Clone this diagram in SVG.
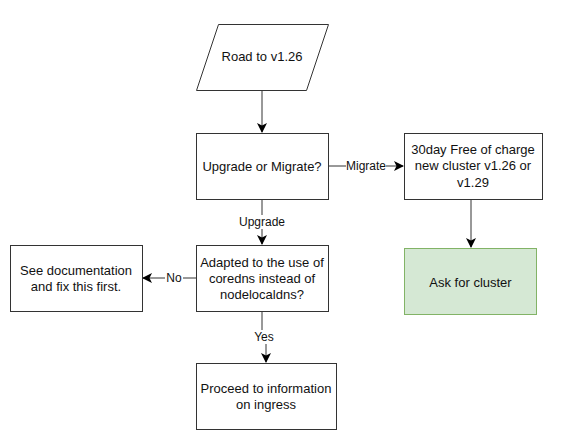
<svg xmlns="http://www.w3.org/2000/svg" width="568" height="437" viewBox="0 0 568 437">
<style>
.n{fill:#fff;stroke:#333;stroke-width:1}
.g{fill:#d5e8d4;stroke:#82b366;stroke-width:1}
.t{font-family:"Liberation Sans",Arial,sans-serif;font-size:13px;fill:#111;text-anchor:middle}
.l{font-family:"Liberation Sans",Arial,sans-serif;font-size:12px;fill:#111;text-anchor:middle}
.e{fill:none;stroke:#333;stroke-width:1}
.lb{fill:#fff}
</style>
<defs>
<marker id="a" viewBox="0 0 10 10" refX="9" refY="5" markerWidth="10" markerHeight="10" markerUnits="userSpaceOnUse" orient="auto">
<path d="M0,0 L10,5 L0,10 L2.5,5 Z" fill="#000"/>
</marker>
</defs>
<rect width="568" height="437" fill="#fff"/>
<g id="connectors">
<path class="e" d="M262 90 V132" marker-end="url(#a)"/>
<path class="e" d="M328 166 H403" marker-end="url(#a)"/>
<rect class="lb" x="346" y="159" width="40" height="14"/>
<text class="l" x="366" y="170">Migrate</text>
<path class="e" d="M262 199 V244" marker-end="url(#a)"/>
<rect class="lb" x="238" y="215" width="48" height="14"/>
<text class="l" x="262" y="226">Upgrade</text>
<path class="e" d="M471 199 V247" marker-end="url(#a)"/>
<path class="e" d="M196 278 H143" marker-end="url(#a)"/>
<rect class="lb" x="165" y="271" width="18" height="14"/>
<text class="l" x="174" y="282">No</text>
<path class="e" d="M262 311 V336 H266 V362" marker-end="url(#a)"/>
<rect class="lb" x="253" y="330" width="22" height="14"/>
<text class="l" x="264" y="341">Yes</text>
</g>
<g id="start">
<polygon class="n" points="218.5,24.5 328.5,24.5 306.5,90.5 196.5,90.5"/>
<text class="t" x="262" y="61">Road to v1.26</text>
</g>
<g id="decide">
<rect class="n" x="196.5" y="133.5" width="132" height="66"/>
<text class="t" x="262" y="170.5">Upgrade or Migrate?</text>
</g>
<g id="migrate">
<rect class="n" x="404.5" y="133.5" width="138" height="66"/>
<text class="t" x="473" y="153.5">30day Free of charge</text>
<text class="t" x="473" y="170">new cluster v1.26 or</text>
<text class="t" x="473" y="186.5">v1.29</text>
</g>
<g id="ask">
<rect class="g" x="404.5" y="248.5" width="132" height="66"/>
<text class="t" x="470.5" y="286.5">Ask for cluster</text>
</g>
<g id="adapted">
<rect class="n" x="196.5" y="245.5" width="132" height="66"/>
<text class="t" x="262" y="266.5">Adapted to the use of</text>
<text class="t" x="262" y="282.5">coredns instead of</text>
<text class="t" x="262" y="298.5">nodelocaldns?</text>
</g>
<g id="seedoc">
<rect class="n" x="10.5" y="245.5" width="132" height="66"/>
<text class="t" x="76" y="274.5">See documentation</text>
<text class="t" x="76" y="290.5">and fix this first.</text>
</g>
<g id="proceed">
<rect class="n" x="196.5" y="363.5" width="140" height="66"/>
<text class="t" x="266" y="392.5">Proceed to information</text>
<text class="t" x="266" y="408.5">on ingress</text>
</g>
</svg>
